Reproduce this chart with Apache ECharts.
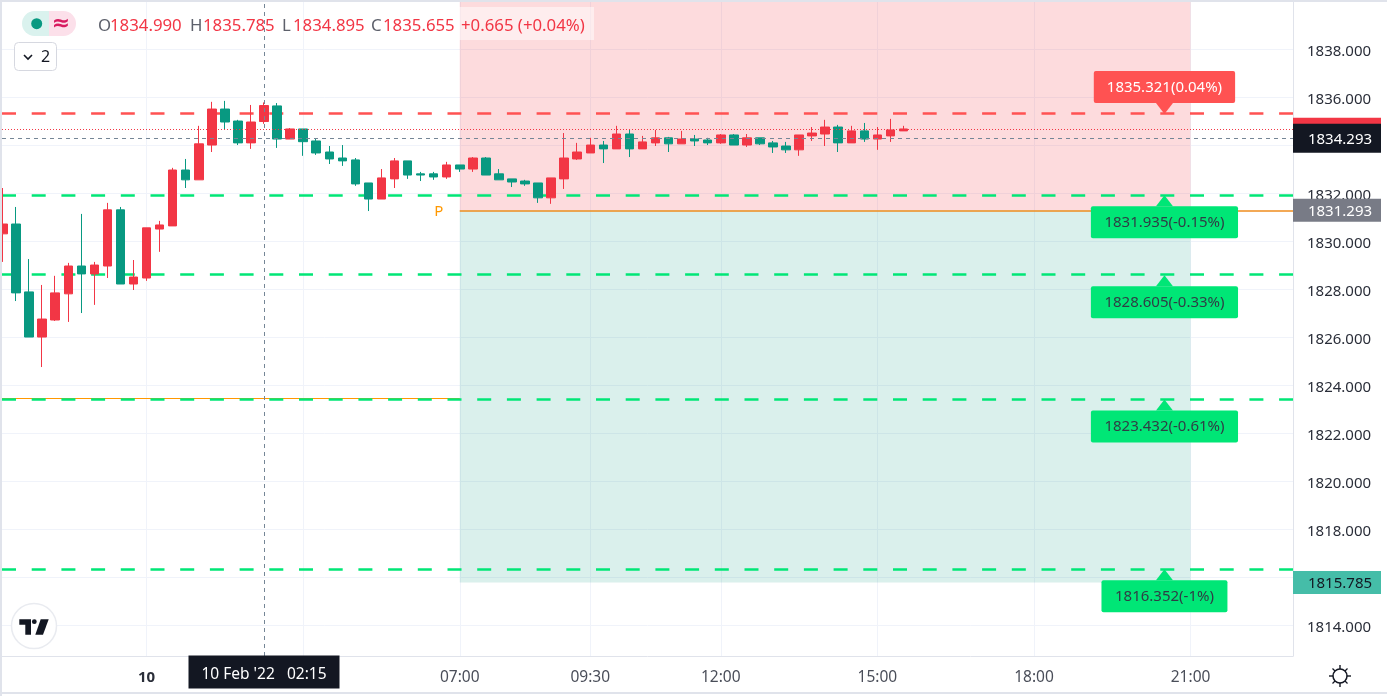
<!DOCTYPE html>
<html>
<head>
<meta charset="utf-8">
<title>XAU 15m</title>
<style>
  html, body { margin: 0; padding: 0; background: #fff; overflow: hidden; }
  #main { width: 1387px; height: 696px; }
</style>
<script src="https://cdn.jsdelivr.net/npm/echarts@6/dist/echarts.min.js"></script>
</head>
<body>
<div id="main"></div>
<script>
// open, close, low, high - one row per 15 minute bar
var ohlc = [
  [1830.31,1830.72,1829.14,1832.22],[1830.72,1827.85,1827.51,1831.43],[1827.89,1826.01,1826.01,1829.26],[1826.01,1826.76,1824.76,1828.18],
  [1826.72,1827.85,1826.68,1828.56],[1827.81,1828.97,1826.64,1829.10],[1828.97,1828.64,1827.01,1831.14],[1828.64,1829.01,1827.35,1829.14],
  [1828.97,1831.31,1828.47,1831.60],[1831.31,1828.22,1828.22,1831.43],[1828.22,1828.51,1827.97,1829.22],[1828.47,1830.56,1828.35,1830.56],
  [1830.51,1830.68,1829.56,1830.85],[1830.64,1832.97,1830.64,1833.06],[1832.97,1832.56,1832.22,1833.43],[1832.56,1834.06,1832.56,1834.81],
  [1834.01,1835.51,1833.72,1835.81],[1835.51,1834.97,1834.64,1835.85],[1835.01,1834.10,1834.01,1835.06],[1834.10,1834.97,1833.85,1835.68],
  [1834.99,1835.655,1834.895,1835.785],[1835.64,1834.26,1833.89,1835.76],[1834.26,1834.68,1834.26,1834.72],[1834.68,1834.15,1833.56,1834.68],
  [1834.18,1833.68,1833.60,1834.26],[1833.72,1833.43,1833.22,1833.97],[1833.47,1833.35,1833.14,1834.01],[1833.39,1832.39,1832.31,1833.47],
  [1832.43,1831.76,1831.26,1832.43],[1831.76,1832.64,1831.76,1833.01],[1832.60,1833.35,1832.22,1833.47],[1833.35,1832.76,1832.60,1833.35],
  [1832.81,1832.76,1832.51,1832.89],[1832.81,1832.68,1832.56,1832.89],[1832.68,1833.18,1832.60,1833.31],[1833.18,1833.01,1832.89,1833.18],
  [1833.01,1833.47,1832.89,1833.51],[1833.47,1832.76,1832.76,1833.51],[1832.81,1832.56,1832.56,1833.01],[1832.60,1832.47,1832.26,1832.60],
  [1832.51,1832.39,1832.31,1832.56],[1832.43,1831.81,1831.60,1832.43],[1831.81,1832.64,1831.56,1832.64],[1832.60,1833.47,1832.18,1834.51],
  [1833.43,1833.72,1833.39,1834.10],[1833.68,1834.01,1833.68,1834.31],[1834.01,1833.85,1833.26,1834.18],[1833.85,1834.47,1833.85,1834.81],
  [1834.47,1833.85,1833.51,1834.64],[1833.85,1834.14,1833.85,1834.39],[1834.10,1834.31,1833.97,1834.64],[1834.31,1834.06,1833.72,1834.35],
  [1834.06,1834.26,1834.06,1834.60],[1834.26,1834.18,1833.97,1834.43],[1834.22,1834.10,1834.01,1834.31],[1834.10,1834.43,1834.06,1834.47],
  [1834.43,1834.01,1834.01,1834.47],[1834.01,1834.31,1833.93,1834.47],[1834.31,1834.06,1834.01,1834.31],[1834.10,1833.93,1833.68,1834.18],
  [1833.97,1833.81,1833.68,1834.14],[1833.81,1834.43,1833.56,1834.43],[1834.39,1834.51,1834.18,1834.76],[1834.47,1834.76,1833.97,1835.06],
  [1834.76,1834.10,1833.72,1834.85],[1834.10,1834.60,1834.10,1834.81],[1834.60,1834.26,1834.14,1834.93],[1834.26,1834.43,1833.81,1834.76],
  [1834.39,1834.64,1834.14,1835.10],[1834.60,1834.68,1834.60,1834.81]
];

// time axis: bar index of each tick and its text
var timeTicks = [11, 23, 35, 45, 55, 67, 79, 91];
var timeLabels = ['10', '', '07:00', '09:30', '12:00', '15:00', '18:00', '21:00'];
var priceTicks = [1814, 1816, 1818, 1820, 1822, 1824, 1826, 1828, 1830, 1832, 1834, 1836, 1838];

// target levels
var upperLevel = 1835.321;
var upperLabel = '1835.321(0.04%)';
var lowerLevels = [1831.935, 1828.605, 1823.432, 1816.352];
var lowerLabels = ['1831.935(-0.15%)', '1828.605(-0.33%)', '1823.432(-0.61%)', '1816.352(-1%)'];

var entryPrice = 1831.293;
var entryLine = 1831.27;
var stopPrice = 1815.785;
var lastPrice = 1834.67;
var hoverPrice = 1834.293;
var oldEntryPrice = 1823.46;

var startBar = 35;
var endBar = 91;
var labelBar = 89;
var hoverBar = 20;
var hoverTime = "10 Feb '22   02:15";

var legendNames = ['O', 'H', 'L', 'C'];
var legendValues = ['1834.990', '1835.785', '1834.895', '1835.655'];
var legendChange = '+0.665 (+0.04%)';

var xMin = -0.077, xMax = 98.85;
var yMin = 1812.72, yMax = 1839.97;

var fontName = '"Noto Sans", sans-serif';
var red = '#f23645', teal = '#089981';

var myChart = echarts.init(document.getElementById('main'), null, { renderer: 'canvas' });

function levelLine(v, color) {
  return { yAxis: v, lineStyle: { color: color, width: 2.5, type: [14, 15.7] } };
}

function levelTag(v, text, bg, fg, up) {
  var side = up ? 13 : 13.5;
  return {
    coord: [labelBar, v],
    symbol: 'triangle',
    symbolSize: [17, 11],
    symbolRotate: up ? 180 : 0,
    symbolOffset: [0, up ? -5 : 6],
    itemStyle: { color: bg },
    label: {
      show: true,
      formatter: text,
      position: up ? 'top' : 'bottom',
      distance: 0,
      color: fg,
      fontSize: 15,
      fontFamily: fontName,
      backgroundColor: bg,
      borderRadius: 2,
      padding: [9, side, 8, side]
    }
  };
}

function priceTag(v, text, bg, fg, h) {
  return {
    coord: [xMax, v],
    symbol: 'rect',
    symbolSize: [88, h],
    symbolOffset: [44, 0],
    itemStyle: { color: bg },
    label: {
      show: !!text,
      formatter: text || '',
      position: 'inside',
      offset: [3, 1],
      color: fg,
      fontSize: 15,
      fontFamily: fontName
    }
  };
}

var tags = [
  priceTag(lastPrice, '', red, '#fff', 23),
  priceTag(entryPrice, entryPrice.toFixed(3), '#787b86', '#fff', 23),
  priceTag(stopPrice, stopPrice.toFixed(3), '#45bda8', '#131722', 23),
  priceTag(hoverPrice, hoverPrice.toFixed(3), '#131722', '#fff', 29),
  levelTag(upperLevel, upperLabel, '#ff5252', '#fff', true)
];
lowerLevels.forEach(function (v, i) {
  tags.push(levelTag(v, lowerLabels[i], '#00e676', '#2f3d45', false));
});
tags.push({
  coord: [33.4, entryPrice],
  symbol: 'circle',
  symbolSize: 1,
  itemStyle: { color: 'transparent' },
  label: { show: true, formatter: 'P', position: 'inside', offset: [0, 1], color: '#ff9800', fontSize: 15, fontFamily: fontName }
});
tags.push({
  coord: [hoverBar, yMin],
  symbol: 'rect',
  symbolSize: [151, 33],
  symbolOffset: [0, 16],
  itemStyle: { color: '#131722' },
  label: { show: true, formatter: hoverTime, position: 'inside', offset: [0, 3], color: '#fff', fontSize: 15.5, fontFamily: fontName }
});

var sharedText = { fontFamily: fontName, fontSize: 16.8, textVerticalAlign: 'middle' };
function headerText(x, text, color) {
  return { type: 'text', x: x, y: 26, z: 20, style: Object.assign({ text: text, fill: color }, sharedText) };
}

var graphics = [
  { type: 'rect', z: 30, shape: { x: 0, y: 0, width: 1387, height: 2 }, style: { fill: '#e0e3eb' } },
  { type: 'rect', z: 30, shape: { x: 0, y: 0, width: 2, height: 696 }, style: { fill: '#e0e3eb' } },
  { type: 'rect', z: 30, shape: { x: 0, y: 692, width: 1387, height: 2 }, style: { fill: '#e0e3eb' } },

  // header
  { type: 'rect', z: 19, shape: { x: 459, y: 7, width: 135, height: 33 }, style: { fill: 'rgba(255,255,255,0.5)' } },
  { type: 'rect', z: 20, shape: { x: 22, y: 11, width: 27, height: 25, r: [12.5, 0, 0, 12.5] }, style: { fill: '#daf2ee' } },
  { type: 'rect', z: 20, shape: { x: 49, y: 11, width: 27, height: 25, r: [0, 12.5, 12.5, 0] }, style: { fill: '#fce0ea' } },
  { type: 'circle', z: 21, shape: { cx: 36.7, cy: 23.7, r: 5.5 }, style: { fill: teal } },
  { type: 'text', z: 21, x: 61, y: 24, style: { text: '≈', fill: '#d81b60', fontFamily: 'DejaVu Sans', fontSize: 22, fontWeight: 'bold', textAlign: 'center', textVerticalAlign: 'middle' } },
  headerText(98, legendNames[0], '#5d606b'), headerText(110, legendValues[0], red),
  headerText(190, legendNames[1], '#5d606b'), headerText(203, legendValues[1], red),
  headerText(282, legendNames[2], '#5d606b'), headerText(293, legendValues[2], red),
  headerText(371, legendNames[3], '#5d606b'), headerText(383, legendValues[3], red),
  headerText(461, legendChange, red),

  // collapse button
  { type: 'rect', z: 20, shape: { x: 14.5, y: 42.5, width: 42, height: 28, r: 4 }, style: { fill: '#fff', stroke: '#d6d8e0', lineWidth: 1 } },
  { type: 'polyline', z: 21, shape: { points: [[24, 55], [28, 59], [32, 55]] }, style: { stroke: '#131722', lineWidth: 1.6, fill: null } },
  { type: 'text', z: 21, x: 45.5, y: 57, style: { text: '2', fill: '#131722', fontFamily: fontName, fontSize: 16, textAlign: 'center', textVerticalAlign: 'middle' } },

  // logo
  { type: 'circle', z: 20, shape: { cx: 34, cy: 626, r: 22.5 }, style: { fill: '#fff', stroke: '#e9ebf0', lineWidth: 1.5 } },
  { type: 'polygon', z: 21, shape: { points: [[19.3, 619.3], [31, 619.3], [31, 634.7], [25.3, 634.7], [25.3, 624.7], [19.3, 624.7]] }, style: { fill: '#131722' } },
  { type: 'circle', z: 21, shape: { cx: 34.3, cy: 621.7, r: 2.4 }, style: { fill: '#131722' } },
  { type: 'polygon', z: 21, shape: { points: [[40.7, 619.3], [48.7, 619.3], [43, 634.7], [35.3, 634.7]] }, style: { fill: '#131722' } },

  // settings icon
  { type: 'circle', z: 21, shape: { cx: 1340, cy: 676, r: 7 }, style: { fill: '#fff', stroke: '#131722', lineWidth: 1.5 } },
  { type: 'line', z: 20, shape: { x1: 1340, y1: 665, x2: 1340, y2: 687 }, style: { stroke: '#131722', lineWidth: 1.4 } },
  { type: 'line', z: 20, shape: { x1: 1329, y1: 676, x2: 1351, y2: 676 }, style: { stroke: '#131722', lineWidth: 1.4 } },
  { type: 'line', z: 20, shape: { x1: 1332.5, y1: 668.5, x2: 1347.5, y2: 683.5 }, style: { stroke: '#131722', lineWidth: 1.2 } },
  { type: 'line', z: 20, shape: { x1: 1347.5, y1: 668.5, x2: 1332.5, y2: 683.5 }, style: { stroke: '#131722', lineWidth: 1.2 } }
];

var option = {
  animation: false,
  backgroundColor: '#fff',
  grid: { left: 2, top: 2, width: 1291, height: 654, containLabel: false },
  xAxis: {
    type: 'value',
    min: xMin,
    max: xMax,
    axisLine: { show: true, onZero: false, lineStyle: { color: '#e0e3eb' } },
    axisTick: { show: false, customValues: timeTicks },
    splitLine: { show: true, lineStyle: { color: '#f0f3fa' } },
    axisLabel: {
      customValues: timeTicks,
      margin: 14,
      color: '#4a4e59',
      fontSize: 15.5,
      fontFamily: fontName,
      hideOverlap: false,
      formatter: function (v) {
        var t = timeLabels[timeTicks.indexOf(v)] || '';
        return t === '10' ? '{b|10}' : t;
      },
      rich: { b: { fontWeight: 'bold', color: '#2a2e39', fontSize: 15, fontFamily: fontName } }
    }
  },
  yAxis: {
    type: 'value',
    position: 'right',
    min: yMin,
    max: yMax,
    axisLine: { show: true, onZero: false, lineStyle: { color: '#e0e3eb' } },
    axisTick: { show: false, customValues: priceTicks },
    splitLine: { show: true, lineStyle: { color: '#f0f3fa' } },
    axisLabel: {
      customValues: priceTicks,
      margin: 14,
      color: '#2a2e39',
      fontSize: 15,
      fontFamily: fontName,
      formatter: function (v) { return '{p|' + v.toFixed(3) + '}'; },
      rich: { p: { color: '#2a2e39', fontSize: 15, fontFamily: fontName, padding: [4, 0, 0, 0] } }
    }
  },
  series: [
    {
      name: 'zones',
      type: 'line',
      data: [],
      silent: true,
      markArea: {
        silent: true,
        z: 1,
        data: [
          [{ coord: [startBar, yMax], itemStyle: { color: 'rgba(242,54,69,0.18)' } }, { coord: [endBar, entryPrice] }],
          [{ coord: [startBar, entryPrice], itemStyle: { color: 'rgba(8,153,129,0.15)' } }, { coord: [endBar, stopPrice] }]
        ]
      },
      markLine: {
        silent: true,
        z: 2,
        symbol: 'none',
        label: { show: false },
        data: [
          [{ coord: [xMin, oldEntryPrice], lineStyle: { color: '#ff9800', width: 1, type: 'solid' } }, { coord: [startBar, oldEntryPrice] }],
          [{ coord: [startBar, entryLine], lineStyle: { color: '#ef8c1e', width: 1.5, type: 'solid' } }, { coord: [xMax, entryLine] }],
          levelLine(upperLevel, '#ff5252'),
          levelLine(lowerLevels[0], '#00e676'),
          levelLine(lowerLevels[1], '#00e676'),
          levelLine(lowerLevels[2], '#00e676'),
          levelLine(lowerLevels[3], '#00e676')
        ]
      }
    },
    {
      name: 'price',
      type: 'candlestick',
      z: 3,
      barWidth: 9,
      silent: true,
      itemStyle: { color: red, color0: teal, borderColor: red, borderColor0: teal, borderWidth: 1 },
      data: ohlc.map(function (r, i) { return [i, r[0], r[1], r[2], r[3]]; })
    },
    {
      name: 'overlay',
      type: 'line',
      data: [],
      silent: true,
      markLine: {
        silent: true,
        z: 4,
        symbol: 'none',
        label: { show: false },
        data: [
          { yAxis: lastPrice, lineStyle: { color: red, width: 1, type: [1, 2] } },
          { yAxis: hoverPrice, lineStyle: { color: '#758696', width: 1, type: [4, 4] } },
          { xAxis: hoverBar, lineStyle: { color: '#758696', width: 1, type: [4, 4] } }
        ]
      },
      markPoint: { silent: true, z: 6, data: tags }
    }
  ],
  graphic: { elements: graphics }
};

myChart.setOption(option);
</script>
</body>
</html>
